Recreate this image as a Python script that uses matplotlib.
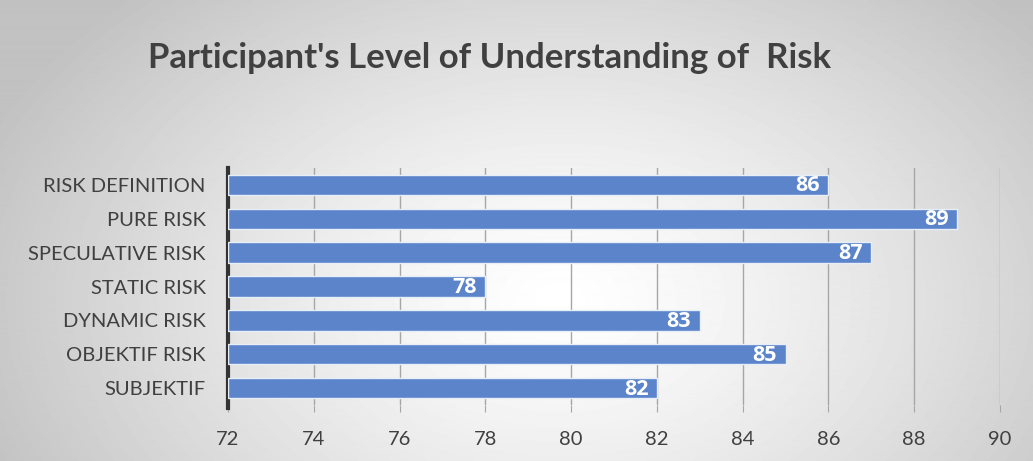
import matplotlib
matplotlib.use("Agg")
import matplotlib.pyplot as plt
import numpy as np

# data
categories = ["RISK DEFINITION", "PURE RISK", "SPECULATIVE RISK", "STATIC RISK",
              "DYNAMIC RISK", "OBJEKTIF RISK", "SUBJEKTIF"]
scores = [86, 89, 87, 78, 83, 85, 82]
x_ticks = [72, 74, 76, 78, 80, 82, 84, 86, 88, 90]

plt.rcParams['font.family'] = ['Lato', 'DejaVu Sans']

fig = plt.figure(figsize=(10.33, 4.61), dpi=100)

# radial gradient background
bg = fig.add_axes([0, 0, 1, 1], zorder=0)
yy, xx = np.mgrid[0:461, 0:1033]
r = np.sqrt(((xx - 560) / 620.0) ** 2 + ((yy - 300) / 420.0) ** 2)
shade = np.clip(1.0 - 0.24 * r ** 1.3, 0.76, 1.0)
bg.imshow(shade, cmap='gray', vmin=0, vmax=1, aspect='auto', extent=[0, 1, 0, 1])
bg.axis('off')

ax = fig.add_axes([228 / 1033, 56 / 461, 772 / 1033, 237 / 461], zorder=1)
ax.patch.set_alpha(0)

y = np.arange(len(categories))
bars = ax.barh(y, [s - 72 for s in scores], left=72, height=0.6,
               color='#5B84CB', edgecolor='#E8EEF8', linewidth=1, zorder=3)

for yi, s in zip(y, scores):
    ax.text(s - 0.2, yi + 0.03, str(s), ha='right', va='center', color='white',
            fontsize=15.5, fontweight='bold', family=['Open Sans', 'DejaVu Sans'],
            zorder=4)

ax.set_xlim(72, 90)
ax.set_ylim(len(categories) - 0.5, -0.5)
ax.set_xticks(x_ticks)
ax.set_yticks(y)
ax.set_yticklabels(categories)
ax.grid(axis='x', color='#A6A6A6', linewidth=1, zorder=1)
ax.tick_params(axis='x', length=5, color='#A6A6A6', labelsize=14.5,
               labelcolor='#404040', pad=14)
ax.tick_params(axis='y', length=0, labelsize=14.5, labelcolor='#404040', pad=16)

for side in ['top', 'right', 'bottom']:
    ax.spines[side].set_visible(False)
ax.spines['left'].set_color('#333333')
ax.spines['left'].set_linewidth(3)
ax.spines['left'].set_bounds(len(categories) - 0.4, -0.5)

fig.text(0.474, 0.875, "Participant's Level of Understanding of  Risk",
         ha='center', va='center', fontsize=25, fontweight='bold', color='#404040')

plt.savefig('out.png', dpi=100)
